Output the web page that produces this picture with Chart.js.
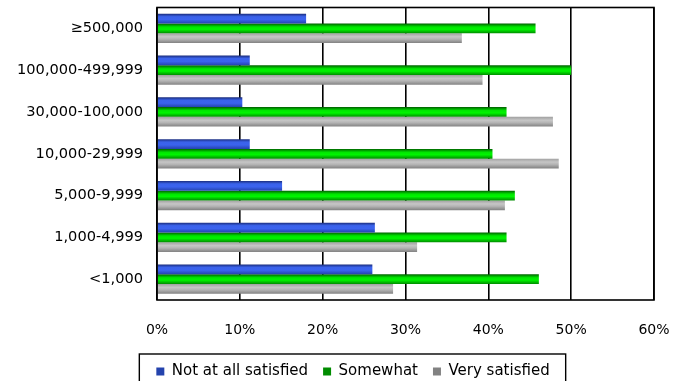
<!DOCTYPE html>
<html>
<head>
<meta charset="utf-8">
<script src="https://cdn.jsdelivr.net/npm/chart.js@4"></script>
<style>
  html, body { margin: 0; padding: 0; background: #fff; }
  canvas { display: block; }
</style>
</head>
<body>
<canvas id="chart" width="691" height="381"></canvas>
<script>
// Satisfaction by community size (share of respondents, %)
const categories = ['≥500,000', '100,000-499,999', '30,000-100,000', '10,000-29,999', '5,000-9,999', '1,000-4,999', '<1,000'];
const notAtAllSatisfied = [18.0, 11.2, 10.3, 11.2, 15.1, 26.3, 26.0];
const somewhat = [45.7, 50.0, 42.2, 40.5, 43.2, 42.2, 46.1];
const verySatisfied = [36.8, 39.3, 47.8, 48.5, 42.0, 31.4, 28.5];
const seriesNames = ['Not at all satisfied', 'Somewhat', 'Very satisfied'];
const xTickValues = [0, 10, 20, 30, 40, 50, 60];

const CATEGORY_PCT = 0.70;
const FONT = 'DejaVu Sans';

// Cylinder-like shading for each series: [offset, colour] stops across the bar height
const shading = [
  [[0, '#1a2c7c'], [0.3, '#3a62ea'], [0.6, '#3b63ee'], [1, '#2443ad']],
  [[0, '#006000'], [0.35, '#00e600'], [0.6, '#00f500'], [1, '#008c00']],
  [[0, '#a0a0a0'], [0.35, '#c6c6c6'], [0.6, '#b4b4b4'], [1, '#828282']]
];
const flatColours = ['#3358dd', '#00d800', '#a8a8a8'];

function barFill(series) {
  return (ctx) => {
    if (ctx.type !== 'data') return flatColours[series];
    const chart = ctx.chart;
    const ys = chart.scales && chart.scales.y;
    if (!ys || !chart.chartArea) return flatColours[series];
    const step = Math.abs(ys.getPixelForValue(1) - ys.getPixelForValue(0));
    const group = step * CATEGORY_PCT;
    const slot = group / 3;
    const top = ys.getPixelForValue(ctx.dataIndex) - group / 2 + slot * ctx.datasetIndex;
    const g = chart.ctx.createLinearGradient(0, top, 0, top + slot);
    shading[series].forEach(([o, c]) => g.addColorStop(o, c));
    return g;
  };
}

// Plot frame and the box around the legend
const framePlugin = {
  id: 'frame',
  afterDatasetsDraw(chart) {
    const { ctx, chartArea: a } = chart;
    ctx.save();
    ctx.strokeStyle = '#000';
    ctx.lineWidth = 1.6;
    ctx.strokeRect(a.left, a.top, a.right - a.left, a.bottom - a.top);
    ctx.restore();
  },
  afterDraw(chart) {
    const hb = chart.legend && chart.legend.legendHitBoxes;
    if (!hb || !hb.length) return;
    const last = hb[hb.length - 1];
    const left = hb[0].left - 17;
    const right = last.left + last.width + 16;
    const top = hb[0].top - 10;
    const ctx = chart.ctx;
    ctx.save();
    ctx.strokeStyle = '#000';
    ctx.lineWidth = 1.4;
    ctx.strokeRect(left, top, right - left, 80);
    ctx.restore();
  }
};

const seriesData = [notAtAllSatisfied, somewhat, verySatisfied];

new Chart(document.getElementById('chart'), {
  type: 'bar',
  data: {
    labels: categories,
    datasets: seriesData.map((d, i) => ({
      label: seriesNames[i],
      data: d,
      backgroundColor: barFill(i),
      borderWidth: 0,
      categoryPercentage: CATEGORY_PCT,
      barPercentage: 1.0
    }))
  },
  options: {
    indexAxis: 'y',
    responsive: false,
    animation: false,
    devicePixelRatio: 1,
    layout: { padding: { left: 15, right: 0, top: 7.5, bottom: -8 } },
    plugins: {
      tooltip: { enabled: false },
      legend: {
        position: 'bottom',
        labels: {
          boxWidth: 8,
          boxHeight: 8,
          padding: 15,
          color: '#000',
          font: { family: FONT, size: 15 }
        }
      }
    },
    scales: {
      x: {
        type: 'linear',
        min: 0,
        max: 60,
        afterBuildTicks: (scale) => { scale.ticks = xTickValues.map(v => ({ value: v })); },
        afterFit: (scale) => { scale.height = 49; scale.paddingRight = 37; scale.paddingLeft = 0; },
        grid: { color: '#000', lineWidth: 1.6, drawTicks: false },
        border: { display: false },
        ticks: {
          padding: 22,
          color: '#000',
          font: { family: FONT, size: 14 },
          callback: (v) => v + '%'
        }
      },
      y: {
        afterFit: (scale) => { scale.width = 142; scale.paddingTop = 0; scale.paddingBottom = 0; },
        grid: { display: false, drawTicks: false },
        border: { display: false },
        ticks: {
          padding: 14,
          color: '#000',
          font: { family: FONT, size: 14.6 }
        }
      }
    }
  },
  plugins: [framePlugin]
});
</script>
</body>
</html>
